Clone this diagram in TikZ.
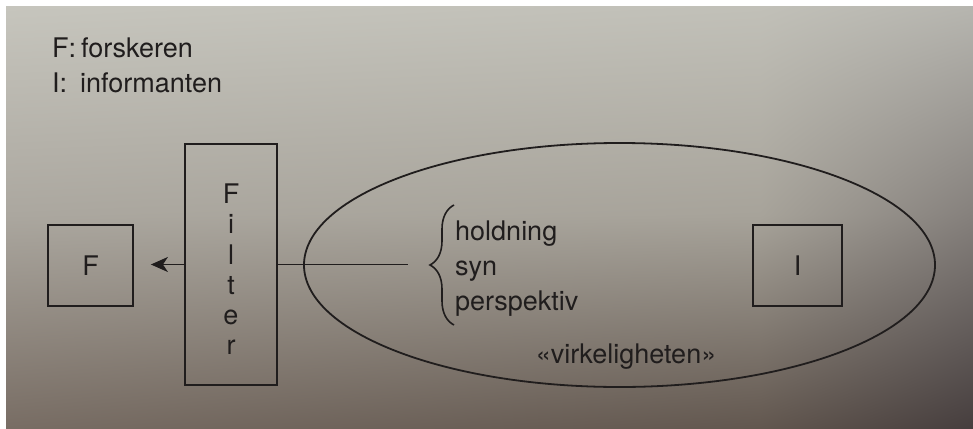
\documentclass[tikz,border=0pt]{standalone}
\usepackage{fontspec}
\setmainfont{TeX Gyre Heros}
\usetikzlibrary{shapes.geometric,arrows.meta,decorations.pathreplacing,shadings}

\definecolor{ink}{HTML}{201D1D}
% paper tones: rows top / middle / bottom, columns left / inner / right edge
\definecolor{tL}{HTML}{C6C5BD}
\definecolor{tI}{HTML}{C1C0B8}
\definecolor{tR}{HTML}{B6B5AF}
\definecolor{mL}{HTML}{ABA79F}
\definecolor{mI}{HTML}{A7A39A}
\definecolor{mR}{HTML}{85807C}
\definecolor{bL}{HTML}{786D64}
\definecolor{bI}{HTML}{62574F}
\definecolor{bR}{HTML}{463E3E}

\begin{document}
\begin{tikzpicture}[x=1pt,y=-1pt,
  every node/.style={text=ink, font=\fontsize{27}{32}\selectfont},
  box/.style={draw=ink, line width=1.8pt, rectangle, inner sep=0pt},
  link/.style={draw=ink, line width=1.8pt},
  word/.style={anchor=base west, inner sep=0pt},
]
\useasboundingbox (0,0) rectangle (973,428);

% page background: white edge, then toned paper darkening downwards and to the right
\fill[white] (0,0) rectangle (973,428);
\shade[upper left=tL, upper right=tI, lower left=mL, lower right=mI] (6,7) rectangle (760.5,215.5);
\shade[upper left=tI, upper right=tR, lower left=mI, lower right=mR] (760,7) rectangle (973,215.5);
\shade[upper left=mL, upper right=mI, lower left=bL, lower right=bI] (6,215) rectangle (760.5,428);
\shade[upper left=mI, upper right=mR, lower left=bI, lower right=bR] (760,215) rectangle (973,428);

% legend
\node[word] (keyF) at (52,57) {F:};
\node[word] (keyFtext) at (81,57) {forskeren};
\node[word] (keyI) at (52,92) {I:};
\node[word] (keyItext) at (80,92) {informanten};

% researcher, filter, reality with the informant
\node[box, minimum width=85pt, minimum height=81pt] (res) at (90.5,265.5) {F};
\node[box, minimum width=92pt, minimum height=241pt] (filter) at (231,264.5) {};
\node[inner sep=0pt, align=center, font=\fontsize{27}{30.2}\selectfont]
  (filtertext) at (231,269.3) {F\\i\\l\\t\\e\\r};
\node[ellipse, draw=ink, line width=1.8pt, minimum width=631pt,
  minimum height=244pt, inner sep=0pt] (reality) at (619.5,265) {};
\node[box, minimum width=89pt, minimum height=81pt] (inf) at (797.5,265.5) {I};

% connectors
\coordinate (tip) at (408,265);
\draw[link, -{Stealth[length=17pt,width=15pt,inset=5pt]}, shorten >=17pt]
  (filter.west) -- (filter.west -| res.east);
\draw[link] (filter.east) -- (filter.east -| tip);

% brace and what it groups
\coordinate (braceBot) at (454,325);
\coordinate (braceTop) at (454,205);
\draw[ink, line width=1.6pt, decorate, decoration={brace, amplitude=24pt, aspect=0.5}]
  (braceBot) -- (braceTop);
\node[word] (attA) at (455,240) {holdning};
\node[word] (attB) at (455,275) {syn};
\node[word] (attC) at (455,310) {perspektiv};
\node[anchor=base, inner sep=0pt] (realname) at (626,363) {«virkeligheten»};
\end{tikzpicture}
\end{document}
